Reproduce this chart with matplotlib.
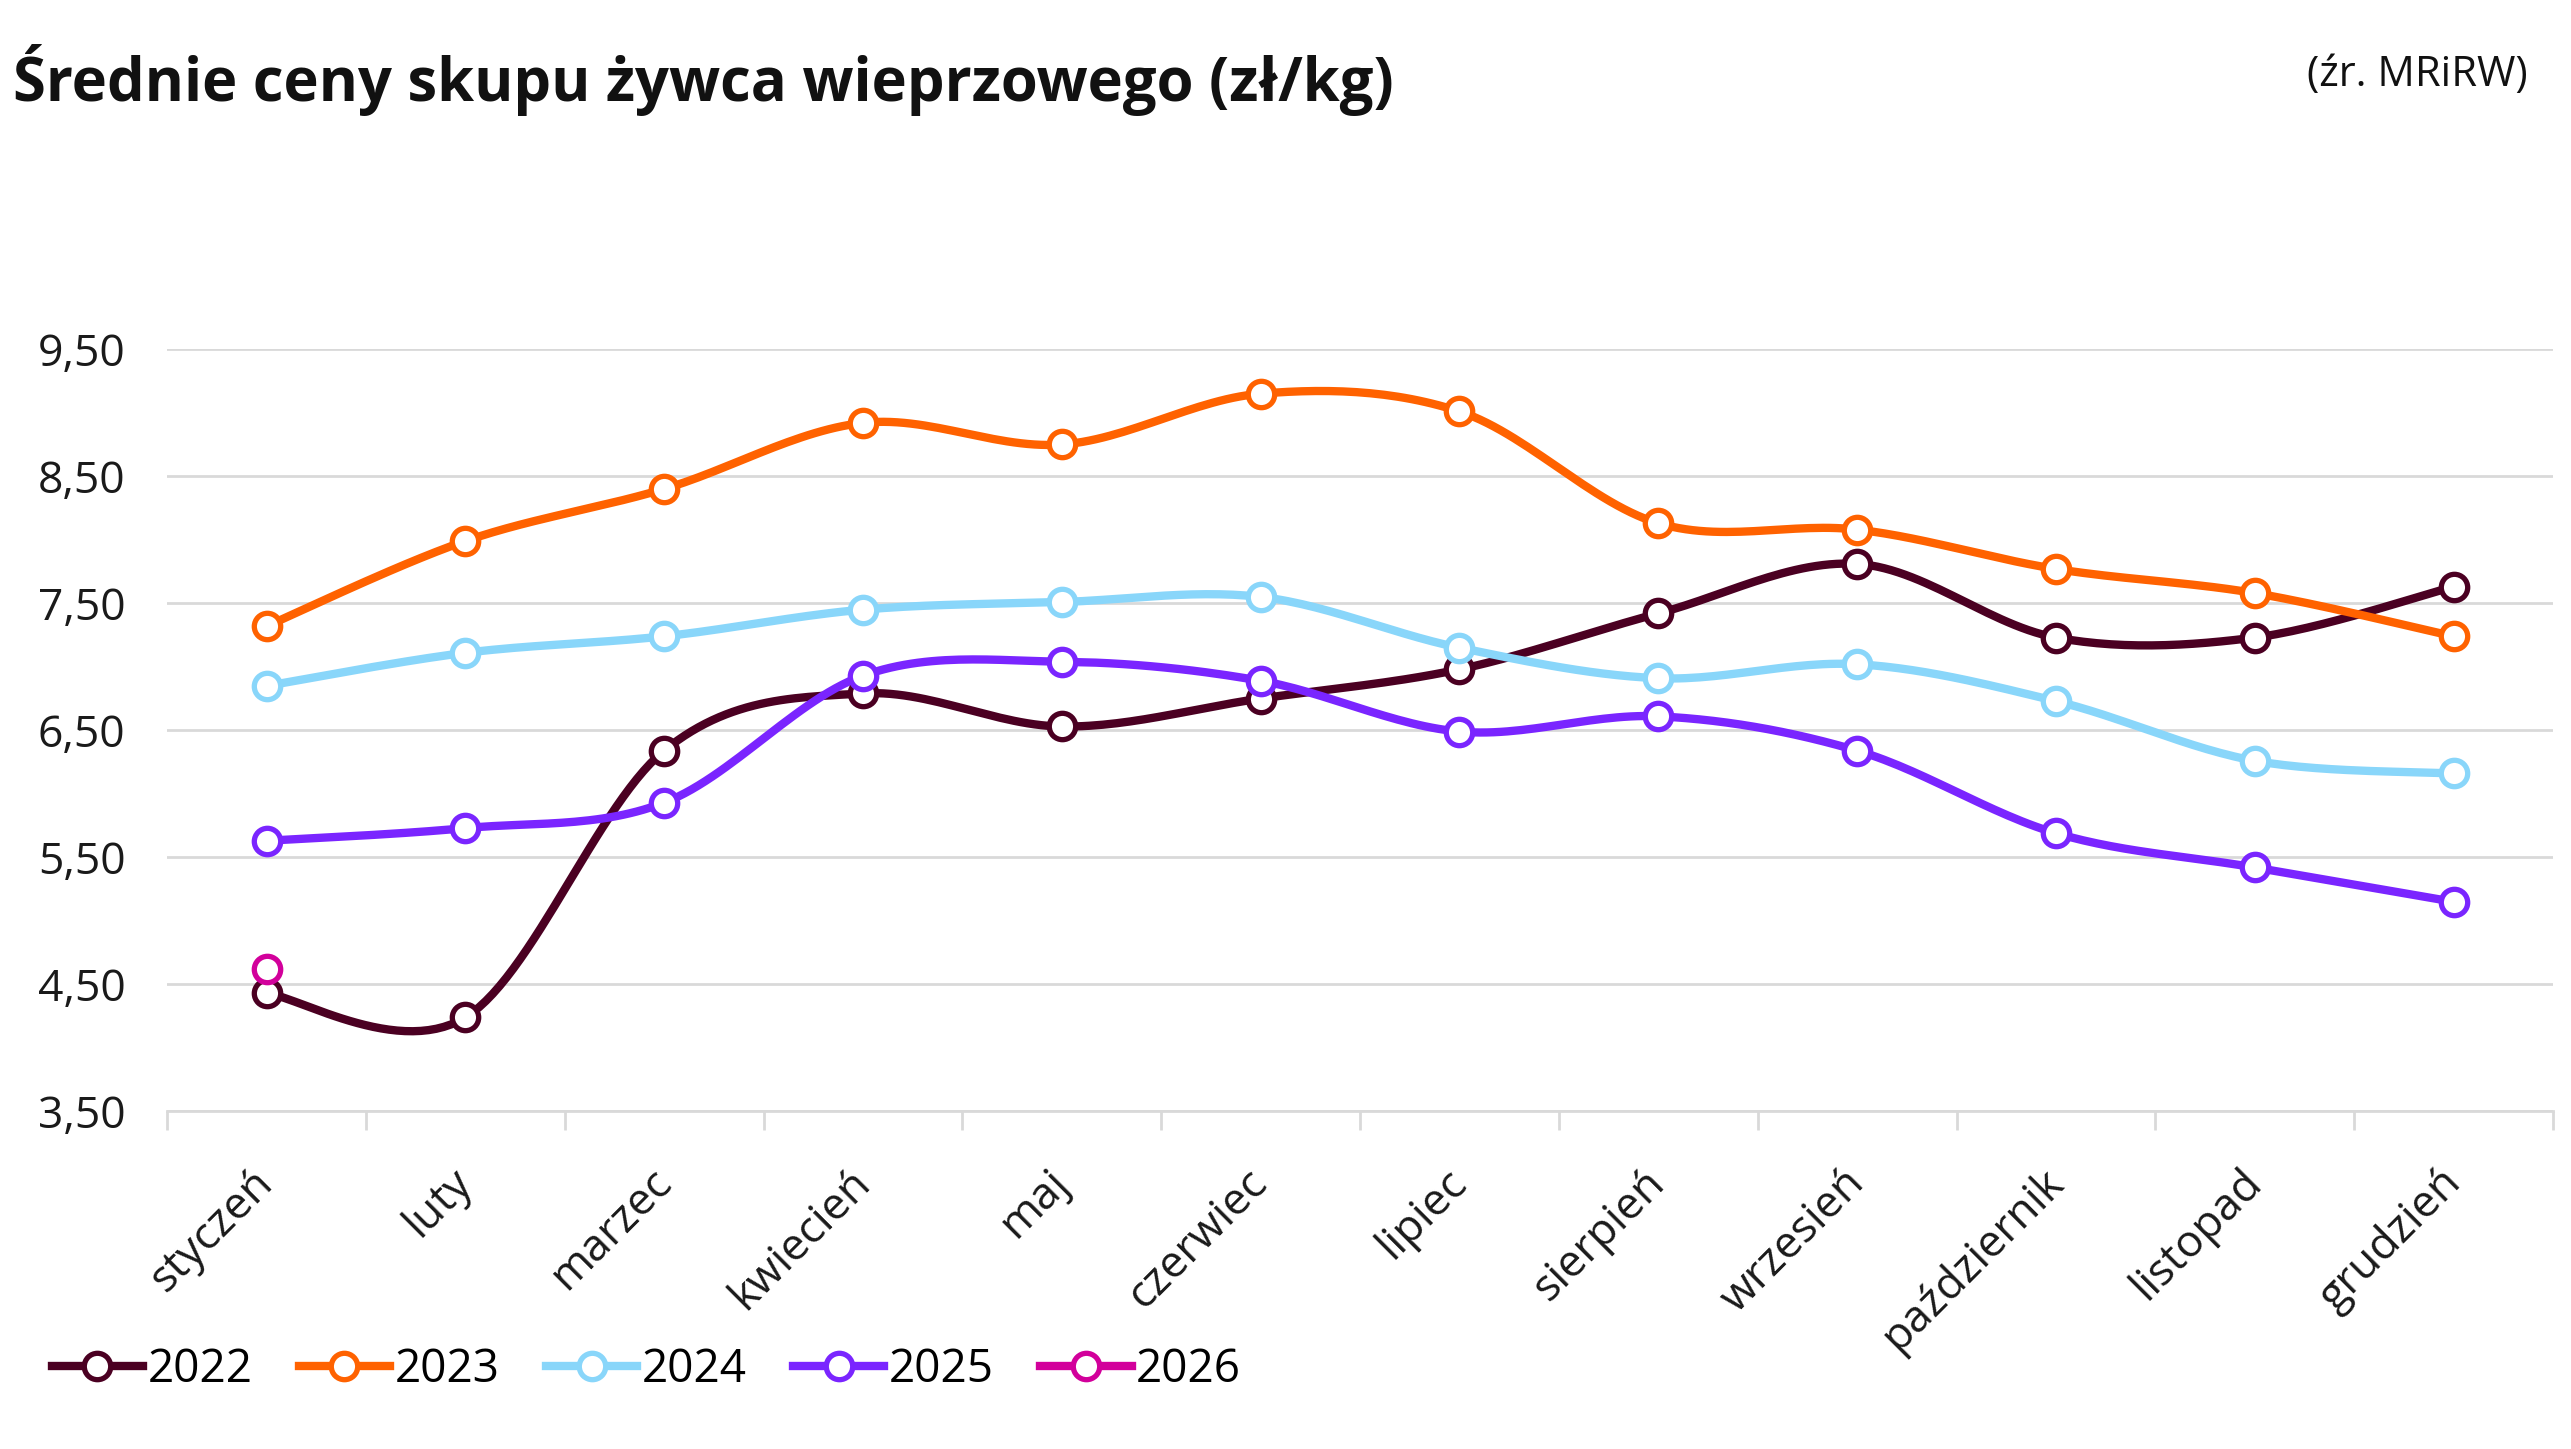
import numpy as np
import matplotlib
matplotlib.use('Agg')
from matplotlib import pyplot as plt
from matplotlib.lines import Line2D
from matplotlib.transforms import ScaledTranslation

plt.rcParams['font.family'] = ['Open Sans', 'DejaVu Sans']

months = ['styczeń', 'luty', 'marzec', 'kwiecień', 'maj', 'czerwiec',
          'lipiec', 'sierpień', 'wrzesień', 'październik', 'listopad', 'grudzień']
years = ['2022', '2023', '2024', '2025', '2026']
p2022 = [4.43, 4.24, 6.34, 6.79, 6.53, 6.75, 6.98, 7.42, 7.81, 7.23, 7.23, 7.63]
p2023 = [7.32, 7.99, 8.40, 8.92, 8.75, 9.15, 9.01, 8.13, 8.08, 7.77, 7.58, 7.24]
p2024 = [6.85, 7.11, 7.24, 7.45, 7.51, 7.55, 7.15, 6.91, 7.02, 6.73, 6.26, 6.16]
p2025 = [5.63, 5.73, 5.93, 6.93, 7.04, 6.89, 6.49, 6.61, 6.34, 5.69, 5.42, 5.15]
p2026 = [4.62]
yticks = [3.5, 4.5, 5.5, 6.5, 7.5, 8.5, 9.5]

colors = ['#4b0022', '#ff6200', '#89d6fa', '#7a25ff', '#d2009b']
series = [p2022, p2023, p2024, p2025, p2026]


def smooth(x, y, n=30):
    # Excel-like smoothed line (Catmull-Rom style bezier)
    x = np.asarray(x, float)
    y = np.asarray(y, float)
    if len(x) < 2:
        return x, y
    px = np.concatenate([[x[0]], x, [x[-1]]])
    py = np.concatenate([[y[0]], y, [y[-1]]])
    xs, ys = [], []
    t = np.linspace(0, 1, n)
    for i in range(1, len(px) - 2):
        p0 = np.array([px[i], py[i]])
        p3 = np.array([px[i + 1], py[i + 1]])
        p1 = p0 + (np.array([px[i + 1], py[i + 1]]) - np.array([px[i - 1], py[i - 1]])) / 6
        p2 = p3 - (np.array([px[i + 2], py[i + 2]]) - np.array([px[i], py[i]])) / 6
        b = ((1 - t) ** 3)[:, None] * p0 + (3 * (1 - t) ** 2 * t)[:, None] * p1 \
            + (3 * (1 - t) * t ** 2)[:, None] * p2 + (t ** 3)[:, None] * p3
        xs.extend(b[:, 0])
        ys.extend(b[:, 1])
    return np.array(xs), np.array(ys)


fig = plt.figure(figsize=(25.71, 14.49), dpi=100)
ax = fig.add_axes([0.065, 0.233, 0.928, 0.526])

for vals, c, lab in zip(series, colors, years):
    xi = np.arange(len(vals))
    sx, sy = smooth(xi, vals)
    ax.plot(sx, sy, color=c, lw=6, solid_capstyle='round', zorder=3)
    ax.plot(xi, vals, ls='none', marker='o', ms=19, mfc='white', mec=c,
            mew=3.8, zorder=4, clip_on=False)

ax.set_xlim(-0.5, 11.5)
ax.set_ylim(3.5, 9.5)
ax.set_yticks(yticks)
ax.set_yticklabels([('%.2f' % v).replace('.', ',') for v in yticks])
ax.yaxis.grid(True, color='#d9d9d9', lw=2)
ax.set_axisbelow(True)
ax.tick_params(axis='y', length=0, labelsize=32, pad=30, labelcolor='#1a1a1a')

ax.set_xticks(np.arange(12))
ax.set_xticklabels(months, rotation=45, ha='right', rotation_mode='anchor')
ax.set_xticks(np.arange(-0.5, 12, 1), minor=True)
ax.tick_params(axis='x', which='major', length=0, labelsize=32, pad=34, labelcolor='#1a1a1a')
ax.tick_params(axis='x', which='minor', length=14, width=2, color='#d9d9d9')
shift = ScaledTranslation(-0.15, -0.02, fig.dpi_scale_trans)
for lbl in ax.get_xticklabels():
    lbl.set_transform(lbl.get_transform() + shift)

for s in ['top', 'right', 'left']:
    ax.spines[s].set_visible(False)
ax.spines['bottom'].set_color('#d9d9d9')
ax.spines['bottom'].set_linewidth(2)

handles = [Line2D([], [], color=c, lw=6, marker='o', ms=19, mfc='white', mec=c, mew=3.8)
           for c in colors]
fig.legend(handles, years, loc='lower left', bbox_to_anchor=(0.004, 0.01), ncol=5,
           frameon=False, fontsize=33, handlelength=2.0, columnspacing=1.0,
           handletextpad=0.1)

fig.text(0.005, 0.945, 'Średnie ceny skupu żywca wieprzowego (zł/kg)', fontsize=43,
         fontweight='bold', va='center', ha='left', color='#111111')
fig.text(0.983, 0.948, '(źr. MRiRW)', fontsize=30, va='center', ha='right', color='#111111')

fig.savefig('out.png', dpi=100)
